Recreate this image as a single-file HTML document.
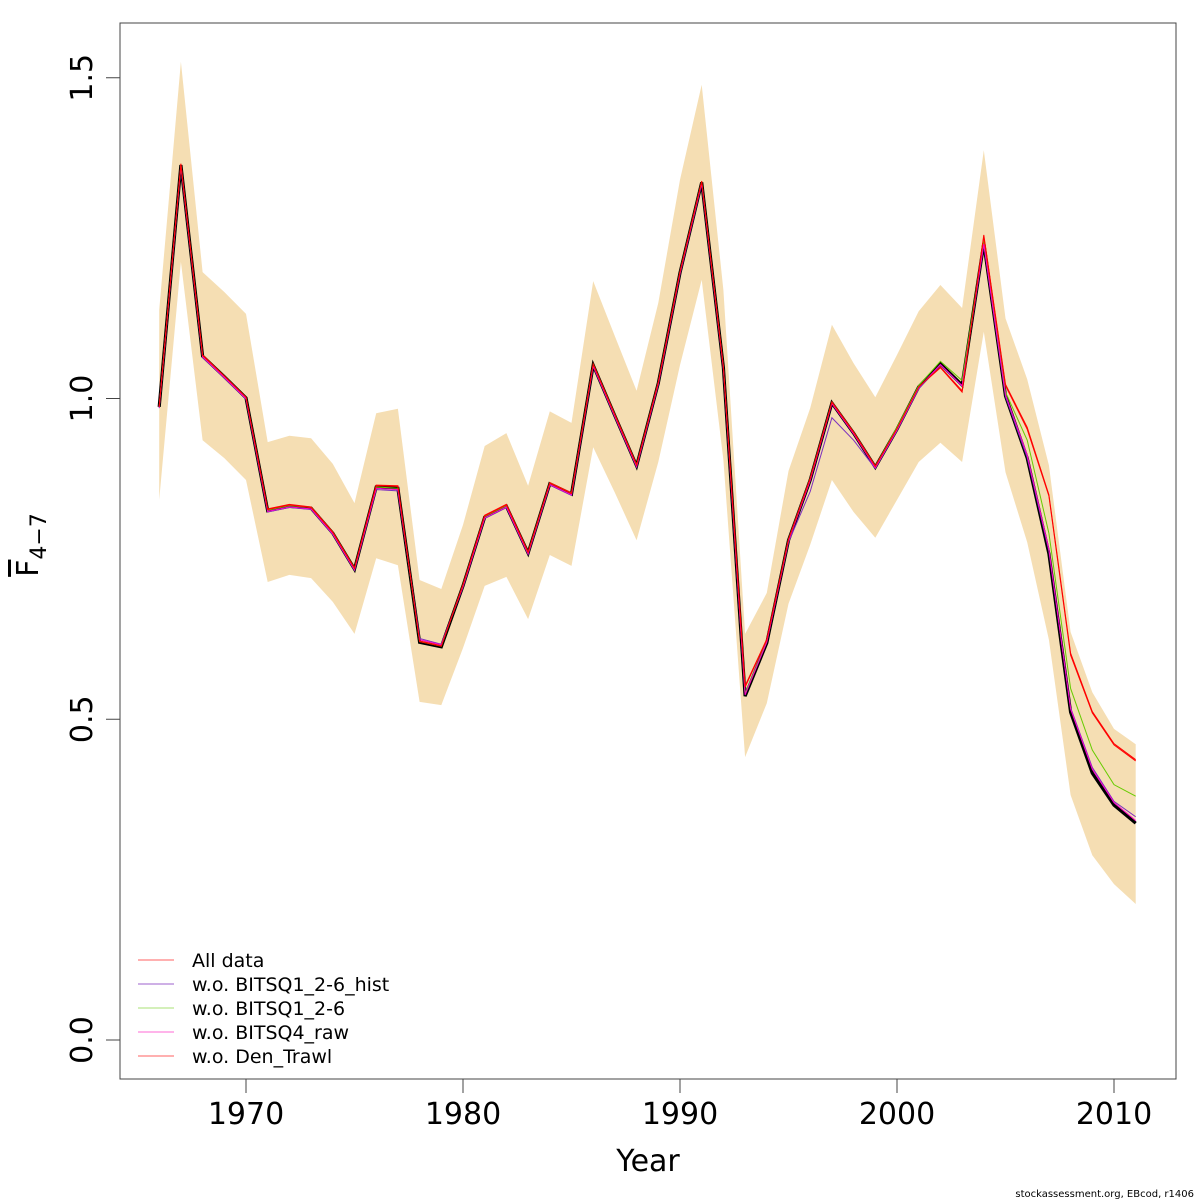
<!DOCTYPE html>
<html><head><meta charset="utf-8"><style>
html,body{margin:0;padding:0;background:#fff;}
svg{display:block;font-family:"DejaVu Sans","Liberation Sans",sans-serif;}
</style></head><body>
<svg id="chart" width="1200" height="1200" viewBox="0 0 1200 1200">
<rect x="120" y="23" width="1056" height="1056" fill="none" stroke="#444" stroke-width="1"/>
<g id="band"></g>
<g id="lines"></g>
<g id="xaxis"></g>
<g id="yaxis"></g>
<text x="648" y="1171" font-size="30" text-anchor="middle">Year</text>
<text transform="translate(38,545) rotate(-90)" font-size="30" text-anchor="middle"><tspan text-decoration="overline">F</tspan><tspan font-size="22" dy="8">4−7</tspan></text>
<g id="legend"></g>
<text x="1194" y="1197" font-size="10" text-anchor="end">stockassessment.org, EBcod, r1406</text>
</svg>
<script>
const years=[1966,1967,1968,1969,1970,1971,1972,1973,1974,1975,1976,1977,1978,1979,1980,1981,1982,1983,1984,1985,1986,1987,1988,1989,1990,1991,1992,1993,1994,1995,1996,1997,1998,1999,2000,2001,2002,2003,2004,2005,2006,2007,2008,2009,2010,2011];
const fbar=[0.987,1.364,1.066,1.034,1.001,0.825,0.832,0.829,0.790,0.734,0.862,0.860,0.620,0.613,0.708,0.815,0.832,0.759,0.867,0.851,1.052,0.973,0.895,1.024,1.196,1.337,1.048,0.536,0.619,0.779,0.873,0.993,0.946,0.893,0.952,1.018,1.054,1.021,1.242,1.004,0.907,0.758,0.511,0.416,0.366,0.338];
const upper=[1.138,1.525,1.197,1.166,1.132,0.932,0.942,0.938,0.898,0.837,0.977,0.984,0.717,0.703,0.803,0.926,0.946,0.864,0.980,0.962,1.183,1.097,1.012,1.149,1.341,1.489,1.169,0.633,0.697,0.887,0.985,1.115,1.055,1.002,1.068,1.136,1.177,1.141,1.387,1.125,1.030,0.896,0.636,0.542,0.485,0.461];
const lower=[0.842,1.213,0.935,0.907,0.873,0.714,0.725,0.720,0.683,0.633,0.751,0.740,0.527,0.522,0.611,0.708,0.722,0.656,0.756,0.739,0.924,0.853,0.779,0.901,1.052,1.185,0.904,0.441,0.525,0.680,0.772,0.873,0.823,0.783,0.842,0.901,0.931,0.901,1.104,0.885,0.776,0.624,0.382,0.288,0.243,0.212];
const allData=[0.987,1.366,1.068,1.035,1.002,0.828,0.835,0.831,0.792,0.736,0.865,0.864,0.622,0.615,0.710,0.818,0.835,0.761,0.869,0.853,1.054,0.975,0.897,1.026,1.198,1.339,1.050,0.552,0.625,0.781,0.876,0.995,0.948,0.895,0.953,1.018,1.048,1.010,1.255,1.022,0.955,0.850,0.603,0.512,0.462,0.437];
const woHist=[0.985,1.362,1.064,1.032,0.999,0.823,0.830,0.827,0.788,0.732,0.858,0.856,0.626,0.617,0.706,0.813,0.830,0.757,0.865,0.849,1.050,0.971,0.893,1.022,1.194,1.335,1.046,0.540,0.622,0.776,0.855,0.970,0.935,0.891,0.950,1.015,1.052,1.019,1.240,1.003,0.908,0.762,0.518,0.425,0.372,0.348];
const woQ1=[0.987,1.364,1.066,1.034,1.001,0.826,0.833,0.830,0.791,0.735,0.862,0.860,0.621,0.614,0.709,0.816,0.833,0.760,0.868,0.852,1.053,0.974,0.896,1.025,1.197,1.338,1.049,0.540,0.621,0.780,0.875,0.994,0.947,0.894,0.955,1.020,1.058,1.028,1.245,1.010,0.935,0.790,0.548,0.452,0.398,0.380];
const woQ4=[0.986,1.363,1.065,1.033,1.000,0.824,0.831,0.828,0.789,0.733,0.860,0.858,0.624,0.616,0.707,0.814,0.831,0.758,0.866,0.850,1.051,0.972,0.894,1.023,1.195,1.336,1.047,0.538,0.620,0.778,0.872,0.992,0.945,0.892,0.951,1.017,1.053,1.020,1.241,1.006,0.912,0.765,0.516,0.422,0.370,0.342];
const woDen=[0.987,1.365,1.067,1.035,1.002,0.827,0.834,0.830,0.791,0.735,0.864,0.863,0.621,0.614,0.709,0.817,0.834,0.760,0.868,0.852,1.053,0.974,0.896,1.025,1.197,1.338,1.049,0.550,0.624,0.780,0.875,0.994,0.947,0.894,0.953,1.018,1.049,1.012,1.252,1.020,0.952,0.848,0.600,0.510,0.460,0.435];
const legendLabels=["All data","w.o. BITSQ1_2-6_hist","w.o. BITSQ1_2-6","w.o. BITSQ4_raw","w.o. Den_Trawl"];
const xTicks=[1970,1980,1990,2000,2010];
const yTicks=[0,0.5,1.0,1.5];
const yTickLabels=["0.0","0.5","1.0","1.5"];

const NS="http://www.w3.org/2000/svg";
const X=v=>159.2+(v-1966)*21.7;
const Y=v=>1040-v*641.5;
function mk(tag,attrs,parent){const e=document.createElementNS(NS,tag);for(const k in attrs)e.setAttribute(k,attrs[k]);parent.appendChild(e);return e;}

const band=document.getElementById('band');
let pts=years.map((y,i)=>X(y)+','+Y(upper[i]));
for(let i=years.length-1;i>=0;i--)pts.push(X(years[i])+','+Y(lower[i]));
const poly=mk('polygon',{points:pts.join(' '),fill:'#F5DEB3',stroke:'none'},band);



const lines=document.getElementById('lines');
const main=mk('polyline',{points:years.map((y,i)=>X(y)+','+Y(fbar[i])).join(' '),fill:'none',stroke:'#000','stroke-width':3.2},lines);


const series=[[allData,'#FF0000','all-data-line'],[woHist,'#7B2FBE','wo-bitsq1-hist-line'],[woQ1,'#66CC00','wo-bitsq1-line'],[woQ4,'#FF00CC','wo-bitsq4-line'],[woDen,'#FF0000','wo-den-trawl-line']];
series.forEach(s=>{
  const p=mk('polyline',{points:years.map((y,i)=>X(y)+','+Y(s[0][i])).join(' '),fill:'none',stroke:s[1],'stroke-width':1},lines);
  
  
});

const xa=document.getElementById('xaxis');
xTicks.forEach(t=>{
  const l=mk('line',{x1:X(t),x2:X(t),y1:1079,y2:1093,stroke:'#444'},xa);
  
  
  const tx=mk('text',{x:X(t),y:1124,'font-size':30,'text-anchor':'middle'},xa);
  tx.textContent=t;
  
  
});
const ya=document.getElementById('yaxis');
yTicks.forEach((t,i)=>{
  const l=mk('line',{x1:106,x2:120,y1:Y(t),y2:Y(t),stroke:'#444'},ya);
  
  
  const tx=mk('text',{transform:'translate(92,'+Y(t)+') rotate(-90)','font-size':30,'text-anchor':'middle'},ya);
  tx.textContent=yTickLabels[i];
  
  
});

const lg=document.getElementById('legend');
const lgColors=['#FF8080','#B080D8','#BBE890','#FF88DD','#FF8080'];
legendLabels.forEach((lab,i)=>{
  const y=960+i*24;
  const l=mk('line',{x1:138,x2:174,y1:y,y2:y,stroke:lgColors[i],'stroke-width':1.3},lg);
  
  
  const t=mk('text',{x:192,y:y+7,'font-size':19},lg);
  t.textContent=lab;
  
  
});
</script>
</body></html>
